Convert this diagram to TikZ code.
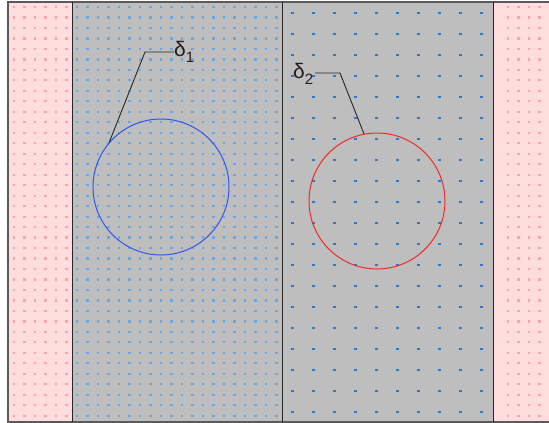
\documentclass[tikz,border=0pt]{standalone}
\usepackage{fontspec}
\setmainfont{Liberation Sans}
\definecolor{bggray}{HTML}{BEBEBE}
\definecolor{pinkbg}{HTML}{FFDDDD}
\definecolor{pinkdot}{HTML}{F2A6AE}
\definecolor{lbluedot}{HTML}{6AA6E2}
\definecolor{dbluedot}{HTML}{2F78C8}
\definecolor{framec}{HTML}{5A5A5A}
\definecolor{circblue}{HTML}{2F55F0}
\definecolor{circred}{HTML}{F02828}
\definecolor{labc}{HTML}{2A1A1A}
\tikzset{
  framel/.style={draw=framec,line width=1.3pt},
  divl/.style={draw=black!85,line width=1pt},
  ring/.style={circle,draw=#1,line width=1pt,minimum size=136pt,inner sep=0pt},
  leader/.style={draw=black!85,line width=0.9pt},
  lab/.style={inner sep=0pt,anchor=west,text=labc,font=\fontsize{21}{21}\selectfont}
}
\begin{document}
\begin{tikzpicture}[x=1pt,y=-1pt]
\useasboundingbox (0,0) rectangle (549,423);
\fill[white] (0,0) rectangle (549,423);
% regions
\fill[pinkbg] (8,2) rectangle (72,422);
\fill[pinkbg] (493,2) rectangle (549,422);
\fill[bggray] (72,2) rectangle (493,422);
% dots
\foreach \i in {0,...,5}{\foreach \j in {0,...,39}{
  \fill[pinkdot] ({14+10.5*\i-1.4},{7+10.48*\j-1.1}) rectangle ++(2.8,2.2);}}
\foreach \i in {0,...,3}{\foreach \j in {0,...,39}{
  \fill[pinkdot] ({508+10.5*\i-1.4},{7+10.48*\j-1.1}) rectangle ++(2.8,2.2);}}
\foreach \i in {0,...,19}{\foreach \j in {0,...,39}{
  \fill[lbluedot] ({77+10.5*\i-1.4},{7+10.48*\j-1.1}) rectangle ++(2.8,2.2);}}
\foreach \i in {0,...,9}{\foreach \j in {0,...,19}{
  \fill[dbluedot] ({292+21*\i-1.5},{13+21*\j-1.1}) rectangle ++(3,2.2);}}
% frame and dividers
\draw[framel] (549,2) -- (8,2) -- (8,422) -- (549,422);
\draw[divl] (72,2) -- (72,422);
\draw[divl] (282,2) -- (282,422);
\draw[divl] (493,2) -- (493,422);
% circles
\node[ring=circblue] (c1) at (161,187) {};
\node[ring=circred] (c2) at (377,201) {};
% labels
\node[lab] (d1) at (174,52) {δ\raisebox{-0.3em}{\fontsize{15}{15}\selectfont 1}};
\node[lab] (d2) at (293,74) {δ\raisebox{-0.3em}{\fontsize{15}{15}\selectfont 2}};
\coordinate (e1) at (145,52);
\coordinate (e2) at (340,73);
\draw[leader] (d1.west) -- (e1) -- (c1.139);
\draw[leader] (315,73) -- (e2) -- (c2.101);
\end{tikzpicture}
\end{document}
